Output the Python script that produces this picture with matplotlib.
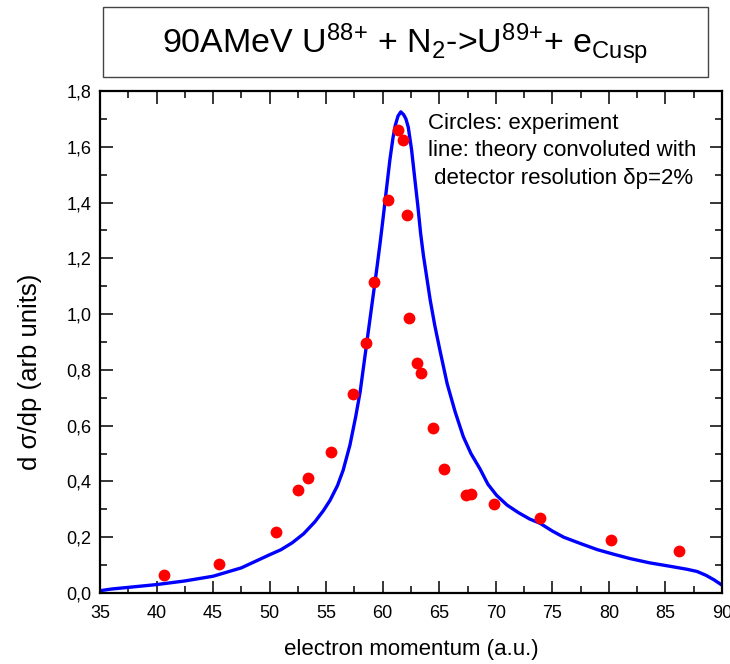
import matplotlib
matplotlib.use("Agg")
import matplotlib.pyplot as plt
from matplotlib.patches import Rectangle
from matplotlib.ticker import MultipleLocator, FuncFormatter

plt.rcParams.update({
    "font.family": ["Liberation Sans", "DejaVu Sans"],
    "mathtext.fontset": "custom",
    "mathtext.rm": "Liberation Sans",
    "mathtext.it": "Liberation Sans",
    "mathtext.bf": "Liberation Sans",
})

# experiment (circles)
exp_p = [40.65, 45.5, 50.6, 52.5, 53.4, 55.45, 57.35, 58.5, 59.27, 60.5,
         61.39, 61.77, 62.12, 62.3, 63.04, 63.42, 64.45, 65.45, 67.4, 67.8,
         69.85, 73.9, 80.16, 86.2]
exp_y = [0.065, 0.103, 0.218, 0.37, 0.412, 0.505, 0.715, 0.896, 1.114, 1.408,
         1.659, 1.623, 1.357, 0.986, 0.824, 0.79, 0.59, 0.445, 0.35, 0.356,
         0.32, 0.269, 0.19, 0.152]

# theory convoluted with detector resolution (line)
th_p = [35.0, 36.0, 37.5, 40.0, 42.5, 45.0, 47.5, 50.0, 51.0, 52.0,
        53.0, 54.0, 54.75, 55.34, 56.0, 56.5, 57.1, 57.6, 58.0, 58.3,
        58.6, 58.9, 59.2, 59.5, 59.8, 60.05, 60.35, 60.64, 60.9, 61.1,
        61.35, 61.6, 61.85, 62.05, 62.26, 62.55, 62.85, 63.1, 63.35, 63.6,
        63.9, 64.2, 64.6, 65.06, 65.7, 66.4, 67.13, 67.8, 68.6, 69.3,
        70.07, 71.0, 72.0, 73.0, 73.9, 75.0, 76.0, 77.5, 79.0, 80.5,
        81.9, 83.6, 85.5, 86.9, 87.8, 88.6, 89.3, 90.0]
th_y = [0.008, 0.014, 0.02, 0.03, 0.043, 0.06, 0.09, 0.137, 0.155, 0.18,
        0.212, 0.255, 0.295, 0.332, 0.385, 0.44, 0.53, 0.63, 0.72, 0.81,
        0.90, 0.99, 1.08, 1.17, 1.265, 1.35, 1.455, 1.555, 1.63, 1.675,
        1.71, 1.725, 1.715, 1.70, 1.67, 1.59, 1.48, 1.39, 1.29, 1.21,
        1.13, 1.05, 0.96, 0.87, 0.75, 0.65, 0.56, 0.50, 0.445, 0.39,
        0.35, 0.315, 0.288, 0.265, 0.25, 0.222, 0.2, 0.177, 0.155, 0.138,
        0.123, 0.108, 0.095, 0.085, 0.077, 0.063, 0.047, 0.028]

fig = plt.figure(figsize=(7.3, 6.64), dpi=100)
ax = fig.add_axes([0.137, 0.107, 0.852, 0.756])

ax.plot(th_p, th_y, color="#0000ff", linewidth=2.4, zorder=2)
ax.plot(exp_p, exp_y, "o", color="#ff0000", markersize=8.5,
        markeredgewidth=0, zorder=3)

ax.set_xlim(35, 90)
ax.set_ylim(0, 1.8)
ax.xaxis.set_major_locator(MultipleLocator(5))
ax.xaxis.set_minor_locator(MultipleLocator(2.5))
ax.yaxis.set_major_locator(MultipleLocator(0.2))
ax.yaxis.set_minor_locator(MultipleLocator(0.1))
ax.yaxis.set_major_formatter(FuncFormatter(lambda v, pos: f"{v:.1f}".replace(".", ",")))
ax.tick_params(which="both", direction="in", top=True, right=True,
               labelsize=13, width=1.1)
ax.tick_params(axis="x", pad=9)
ax.tick_params(axis="y", pad=6)
ax.tick_params(which="major", length=9)
ax.tick_params(which="minor", length=5)
for s in ax.spines.values():
    s.set_linewidth(1.6)

ax.set_xlabel("electron momentum (a.u.)", fontsize=16, labelpad=12)
ax.set_ylabel("d \u03c3/dp (arb units)", fontsize=18.5)
ax.yaxis.set_label_coords(-0.094, 0.44)

ax.text(0.527, 0.957, "Circles: experiment\nline: theory convoluted with\n"
        " detector resolution \u03b4p=2%", transform=ax.transAxes,
        fontsize=16, ha="left", va="top", linespacing=1.42)

# title box
fig.patches.append(Rectangle((103 / 730, 1 - 77 / 664), 605 / 730, 70 / 664,
                             transform=fig.transFigure, fill=False,
                             edgecolor="#444444", linewidth=1.0))
fig.text(405 / 730, 1 - 44 / 664,
         r"90AMeV U$^{88{+}}$ + N$_{2}$->U$^{89{+}}$+ e$_{\rm Cusp}$",
         fontsize=24.5, ha="center", va="center")

fig.savefig("out.png", dpi=100)
